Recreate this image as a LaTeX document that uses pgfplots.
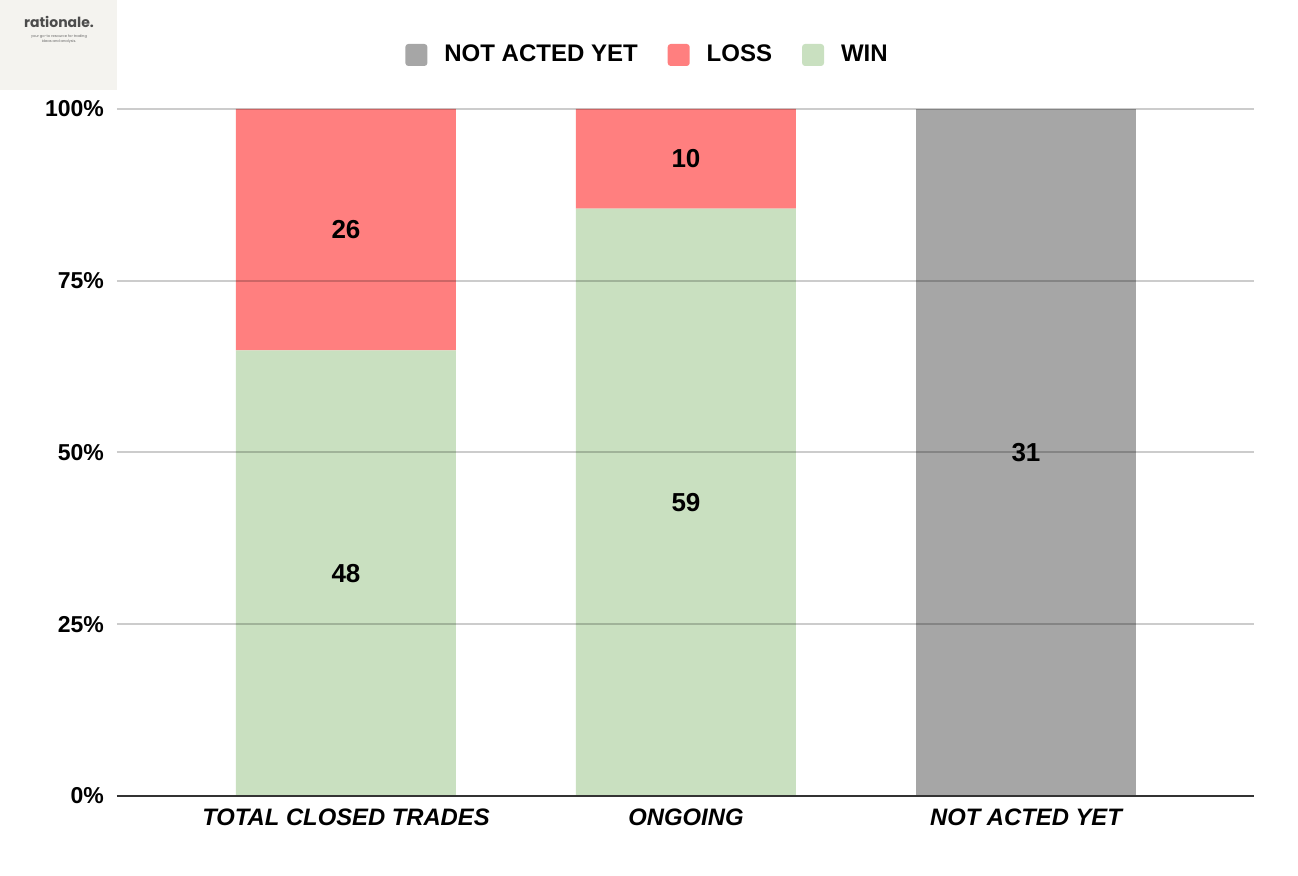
\documentclass[border=0pt]{standalone}
\usepackage{fontspec}
\setmainfont{Liberation Sans}
\newfontfamily\logofont{Poppins}
\usepackage{pgfplots}
\usepackage{pgfplotstable}
\pgfplotsset{compat=1.18}
\definecolor{cgray}{HTML}{A6A6A6}
\definecolor{cred}{HTML}{FF7F7F}
\definecolor{cgreen}{HTML}{C9E0C0}
\definecolor{logobg}{HTML}{F4F3EF}
\pgfplotstableread{
x win loss nay
0 64.86 35.14 0
1 85.51 14.49 0
2 0 0 100
}\bars
\pgfplotstableread{
x y lab
0 32.43 48
0 82.43 26
1 42.75 59
1 92.75 10
2 50 31
}\labs
\begin{document}
\begin{tikzpicture}
\path[use as bounding box] (-58.5pt,-40pt) rectangle (590.5pt,398pt);
\fill[logobg] (-58.5pt,353pt) rectangle (0pt,398pt);
\node[font=\logofont\bfseries\fontsize{7}{8}\selectfont, text=black!70, inner sep=0pt] at (-29pt,387pt) {rationale.};
\node[font=\logofont\fontsize{1.8}{2.6}\selectfont, text=black!60, align=center, inner sep=0pt] at (-29pt,378.5pt) {your go-to resource for trading\\ideas and analysis.};
\begin{axis}[
  scale only axis, width=568.5pt, height=343.5pt,
  xmin=-0.6735, xmax=2.6706, ymin=0, ymax=100,
  ybar stacked, bar width=110pt,
  axis on top,
  axis x line*=bottom, axis y line*=left,
  y axis line style={draw=none},
  x axis line style={draw=black!80, line width=1pt},
  major tick length=0pt,
  xtick={0,1,2},
  xticklabels={TOTAL CLOSED TRADES, ONGOING, NOT ACTED YET},
  xticklabel style={font=\bfseries\itshape\fontsize{11.9}{13}\selectfont, yshift=-3pt},
  ytick={0,25,50,75,100},
  yticklabels={0\%,25\%,50\%,75\%,100\%},
  yticklabel style={font=\bfseries\fontsize{11.5}{13}\selectfont, xshift=-3pt},
  ymajorgrids,
  major grid style={draw=black, opacity=0.2, line width=1pt},
  legend style={at={(0.4675,1.0786)}, anchor=center, draw=none, fill=none,
    font=\bfseries\fontsize{12}{13}\selectfont,
    /tikz/every odd column/.append style={column sep=6.5pt},
    /tikz/every even column/.append style={column sep=13pt}},
  legend columns=-1,
  reverse legend,
  legend image code/.code={\fill[#1, draw=none, rounded corners=1.5pt] (0pt,-5.5pt) rectangle (11pt,5.5pt);},
]
\addplot[fill=cgreen, draw=none] table[x=x, y=win] {\bars};
\addplot[fill=cred, draw=none] table[x=x, y=loss] {\bars};
\addplot[fill=cgray, draw=none] table[x=x, y=nay] {\bars};
\legend{WIN, LOSS, NOT ACTED YET}
\end{axis}
\begin{axis}[
  scale only axis, width=568.5pt, height=343.5pt,
  xmin=-0.6735, xmax=2.6706, ymin=0, ymax=100,
  hide axis,
]
\addplot[draw=none, mark=none, nodes near coords, point meta=explicit symbolic,
  every node near coord/.append style={anchor=center, font=\bfseries\fontsize{13}{14}\selectfont, text=black}]
  table[x=x, y=y, meta=lab] {\labs};
\end{axis}
\end{tikzpicture}
\end{document}
